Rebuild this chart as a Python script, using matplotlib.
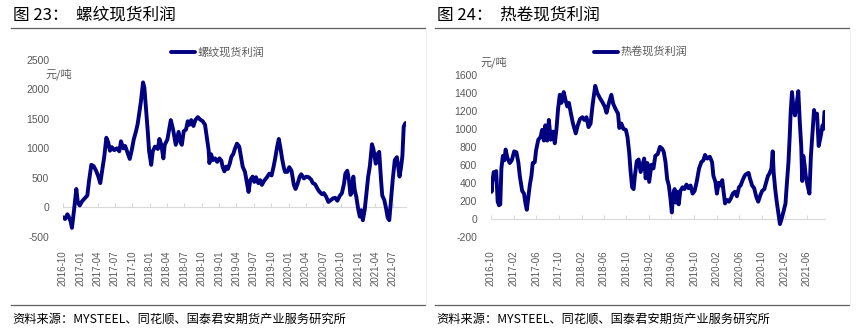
import pandas as pd
import matplotlib
matplotlib.use('Agg')
import matplotlib.pyplot as plt
import matplotlib.dates as mdates
from matplotlib.lines import Line2D

# 图23 螺纹现货利润 (元/吨)
rebar_dates = [
    '2016-10-01', '2016-10-12', '2016-10-24', '2016-10-30', '2016-11-10', '2016-11-17',
    '2016-11-28', '2016-12-10', '2016-12-18', '2016-12-28', '2017-01-09', '2017-01-23',
    '2017-02-06', '2017-02-15', '2017-02-27', '2017-03-11', '2017-03-24', '2017-04-05',
    '2017-04-15', '2017-04-24', '2017-05-06', '2017-05-17', '2017-05-27', '2017-06-05',
    '2017-06-15', '2017-06-27', '2017-07-11', '2017-07-24', '2017-08-02', '2017-08-14',
    '2017-08-24', '2017-09-06', '2017-09-17', '2017-09-27', '2017-10-08', '2017-10-20',
    '2017-10-29', '2017-11-07', '2017-11-15', '2017-11-26', '2017-12-03', '2017-12-12',
    '2017-12-21', '2017-12-28', '2018-01-08', '2018-01-16', '2018-01-28', '2018-02-12',
    '2018-02-20', '2018-03-02', '2018-03-13', '2018-03-20', '2018-04-03', '2018-04-21',
    '2018-05-03', '2018-05-17', '2018-06-01', '2018-06-11', '2018-06-18', '2018-06-28',
    '2018-07-10', '2018-07-19', '2018-07-28', '2018-08-06', '2018-08-18', '2018-08-28',
    '2018-09-10', '2018-09-22', '2018-10-06', '2018-10-18', '2018-10-27', '2018-11-06',
    '2018-11-10', '2018-11-19', '2018-11-28', '2018-12-10', '2018-12-21', '2019-01-02',
    '2019-01-12', '2019-01-19', '2019-01-28', '2019-02-06', '2019-02-15', '2019-02-25',
    '2019-03-06', '2019-03-15', '2019-03-25', '2019-04-04', '2019-04-16', '2019-04-25',
    '2019-05-04', '2019-05-16', '2019-05-26', '2019-06-04', '2019-06-13', '2019-06-25',
    '2019-07-04', '2019-07-13', '2019-07-25', '2019-08-04', '2019-08-13', '2019-08-25',
    '2019-09-09', '2019-09-21', '2019-10-03', '2019-10-13', '2019-10-22', '2019-11-01',
    '2019-11-10', '2019-11-19', '2019-11-27', '2019-12-06', '2019-12-13', '2019-12-25',
    '2020-01-04', '2020-01-16', '2020-01-28', '2020-02-06', '2020-02-16', '2020-02-28',
    '2020-03-07', '2020-03-21', '2020-04-03', '2020-04-15', '2020-04-28', '2020-05-07',
    '2020-05-19', '2020-06-03', '2020-06-12', '2020-06-25', '2020-07-04', '2020-07-16',
    '2020-07-28', '2020-08-09', '2020-08-21', '2020-09-02', '2020-09-13', '2020-09-25',
    '2020-10-07', '2020-10-18', '2020-10-25', '2020-11-04', '2020-11-13', '2020-11-21',
    '2020-11-29', '2020-12-06', '2020-12-13', '2020-12-22', '2020-12-31', '2021-01-09',
    '2021-01-17', '2021-01-25', '2021-02-04', '2021-02-13', '2021-02-22', '2021-03-03',
    '2021-03-14', '2021-03-22', '2021-04-03', '2021-04-12', '2021-04-21', '2021-05-01',
    '2021-05-07', '2021-05-18', '2021-05-26', '2021-06-05', '2021-06-13', '2021-06-22',
    '2021-07-01', '2021-07-12', '2021-07-23', '2021-07-30', '2021-08-06', '2021-08-14',
    '2021-08-21', '2021-08-28', '2021-09-06',
]
rebar_values = [
    -170, -200, -120, -150, -240, -350,
    -50, 310, 80, 30, 100, 150,
    200, 450, 720, 700, 620, 520,
    410, 600, 860, 1180, 1100, 960,
    1020, 970, 1000, 950, 1120, 1000,
    1040, 920, 820, 960, 1150, 1290,
    1420, 1620, 1800, 2120, 2030, 1660,
    1280, 950, 720, 950, 1030, 990,
    1160, 1060, 830, 1060, 1150, 1480,
    1320, 1060, 1280, 1100, 1060, 1290,
    1320, 1460, 1400, 1480, 1380, 1480,
    1530, 1490, 1460, 1400, 1200, 970,
    750, 900, 800, 830, 770, 830,
    790, 680, 610, 690, 650, 740,
    860, 900, 1000, 1080, 1030, 860,
    690, 600, 420, 260, 460, 520,
    430, 510, 410, 460, 380, 450,
    510, 570, 540, 680, 830, 1020,
    1160, 1000, 830, 680, 600, 600,
    680, 620, 380, 310, 390, 520,
    560, 490, 520, 510, 470, 410,
    390, 300, 260, 220, 240, 180,
    90, 120, 150, 160, 110, 190,
    240, 400, 570, 620, 460, 210,
    260, 520, 300, 170, -20, -160,
    -50, -220, -40, 240, 520, 700,
    1070, 980, 740, 900, 940, 450,
    200, 120, 0, -180, -220, 120,
    460, 800, 850, 690, 520, 680,
    870, 1370, 1430,
]
rebar_ticks = ['2016-10', '2017-01', '2017-04', '2017-07', '2017-10', '2018-01', '2018-04',
               '2018-07', '2018-10', '2019-01', '2019-04', '2019-07', '2019-10', '2020-01',
               '2020-04', '2020-07', '2020-10', '2021-01', '2021-04', '2021-07']
rebar_yticks = [-500, 0, 500, 1000, 1500, 2000, 2500]

# 图24 热卷现货利润 (元/吨)
hrc_dates = [
    '2016-10-01', '2016-10-04', '2016-10-09', '2016-10-16', '2016-10-21', '2016-10-29',
    '2016-11-06', '2016-11-13', '2016-11-20', '2016-11-26', '2016-12-04', '2016-12-12',
    '2016-12-19', '2016-12-28', '2017-01-10', '2017-01-21', '2017-02-03', '2017-02-15',
    '2017-02-26', '2017-03-05', '2017-03-18', '2017-03-28', '2017-04-05', '2017-04-12',
    '2017-04-19', '2017-04-28', '2017-05-07', '2017-05-14', '2017-05-25', '2017-06-01',
    '2017-06-13', '2017-06-25', '2017-07-04', '2017-07-13', '2017-07-21', '2017-07-31',
    '2017-08-09', '2017-08-19', '2017-08-31', '2017-09-10', '2017-09-19', '2017-09-28',
    '2017-10-07', '2017-10-16', '2017-10-28', '2017-11-07', '2017-11-16', '2017-11-25',
    '2017-12-06', '2017-12-17', '2018-01-01', '2018-01-12', '2018-01-24', '2018-02-06',
    '2018-02-16', '2018-02-28', '2018-03-11', '2018-03-22', '2018-04-02', '2018-04-16',
    '2018-04-27', '2018-05-12', '2018-05-24', '2018-06-06', '2018-06-16', '2018-06-29',
    '2018-07-12', '2018-07-22', '2018-08-04', '2018-08-17', '2018-08-24', '2018-09-04',
    '2018-09-15', '2018-09-28', '2018-10-07', '2018-10-16', '2018-10-24', '2018-11-01',
    '2018-11-09', '2018-11-16', '2018-11-26', '2018-12-06', '2018-12-17', '2018-12-26',
    '2019-01-05', '2019-01-13', '2019-01-22', '2019-02-01', '2019-02-13', '2019-02-24',
    '2019-03-06', '2019-03-19', '2019-03-31', '2019-04-12', '2019-04-21', '2019-04-30',
    '2019-05-09', '2019-05-18', '2019-05-27', '2019-06-03', '2019-06-10', '2019-06-18',
    '2019-06-25', '2019-07-01', '2019-07-10', '2019-07-19', '2019-07-31', '2019-08-10',
    '2019-08-21', '2019-09-01', '2019-09-12', '2019-09-23', '2019-10-04', '2019-10-15',
    '2019-10-28', '2019-11-09', '2019-11-20', '2019-11-29', '2019-12-11', '2019-12-25',
    '2020-01-06', '2020-01-13', '2020-01-24', '2020-02-01', '2020-02-11', '2020-02-22',
    '2020-03-01', '2020-03-07', '2020-03-16', '2020-03-25', '2020-04-06', '2020-04-17',
    '2020-04-27', '2020-05-08', '2020-05-19', '2020-05-30', '2020-06-08', '2020-06-19',
    '2020-06-30', '2020-07-10', '2020-07-21', '2020-07-28', '2020-08-09', '2020-08-20',
    '2020-09-01', '2020-09-11', '2020-09-22', '2020-10-02', '2020-10-14', '2020-10-23',
    '2020-11-03', '2020-11-10', '2020-11-21', '2020-11-28', '2020-12-03', '2020-12-11',
    '2020-12-19', '2020-12-28', '2021-01-06', '2021-01-15', '2021-01-24', '2021-02-05',
    '2021-02-12', '2021-02-21', '2021-02-28', '2021-03-05', '2021-03-12', '2021-03-19',
    '2021-03-28', '2021-04-06', '2021-04-15', '2021-04-23', '2021-05-01', '2021-05-06',
    '2021-05-12', '2021-05-19', '2021-05-25', '2021-06-04', '2021-06-14', '2021-06-22',
    '2021-07-01', '2021-07-09', '2021-07-16', '2021-07-25', '2021-08-03', '2021-08-13',
    '2021-08-24', '2021-08-29', '2021-09-03',
]
hrc_values = [
    400, 300, 430, 520, 440, 530,
    190, 150, 160, 560, 700, 650,
    770, 680, 620, 650, 750, 740,
    620, 480, 310, 280, 170, 100,
    220, 370, 480, 620, 630, 760,
    880, 910, 990, 870, 1040, 870,
    1100, 880, 970, 840, 1000, 1230,
    1380, 1290, 1410, 1320, 1250, 1290,
    1170, 1060, 950, 1040, 1110, 1130,
    1100, 1130, 1020, 1060, 1270, 1480,
    1400, 1340, 1300, 1250, 1180, 1290,
    1380, 1280, 1220, 1170, 1010, 1060,
    1000, 990, 910, 740, 520, 350,
    330, 480, 640, 660, 520, 590,
    670, 450, 620, 410, 600, 560,
    700, 720, 800, 780, 740, 630,
    440, 370, 220, 70, 260, 330,
    180, 300, 160, 310, 350, 330,
    380, 340, 370, 280, 310, 410,
    560, 630, 650, 710, 670, 690,
    630, 480, 410, 280, 400, 370,
    430, 320, 170, 210, 190, 230,
    280, 300, 250, 350, 370, 430,
    480, 500, 510, 450, 370, 340,
    240, 190, 260, 310, 330, 400,
    480, 500, 560, 750, 520, 340,
    200, 70, -60, 0, 70, 170,
    380, 630, 930, 1190, 1410, 1250,
    1150, 1270, 1420, 1080, 800, 420,
    700, 600, 480, 370, 280, 700,
    970, 1210, 1120, 1170, 810, 910,
    1040, 1000, 1190,
]
hrc_ticks = ['2016-10', '2017-02', '2017-06', '2017-10', '2018-02', '2018-06', '2018-10',
             '2019-02', '2019-06', '2019-10', '2020-02', '2020-06', '2020-10', '2021-02',
             '2021-06']
hrc_yticks = [-200, 0, 200, 400, 600, 800, 1000, 1200, 1400, 1600]

W, H = 858, 329
CJK = ['Noto Sans CJK SC', 'DejaVu Sans']
LINE_COLOR = '#000080'
GREY_TEXT = '#595959'

plt.rcParams['font.family'] = ['Liberation Sans', 'Noto Sans CJK SC', 'DejaVu Sans']
plt.rcParams['axes.unicode_minus'] = False


def fx(px):
    return px / W


def fy(py):
    return 1 - py / H


def draw_panel(fig, box, dates, values, ticks, yticks, label, title, x0, unit_xy, legend_x):
    '''한 개 패널(제목, 선 그래프, 출처)을 그린다'''
    left, top, right, bottom = box
    ax = fig.add_axes([fx(left), fy(bottom), fx(right - left), (bottom - top) / H])
    d = pd.to_datetime(dates)
    line, = ax.plot(d, values, color=LINE_COLOR, linewidth=2.8,
                    solid_joinstyle='round', solid_capstyle='round', label=label, zorder=3)

    ax.set_xlim(d[0], d[-1] + pd.Timedelta(days=3))
    ax.set_ylim(yticks[0], yticks[-1])
    ax.set_yticks(yticks)
    ax.tick_params(axis='y', length=0, pad=10, labelsize=7.5, labelcolor=GREY_TEXT)

    # 0 위치의 가로축 (눈금은 안쪽)
    tick_pos = pd.to_datetime(ticks)
    for s in ['top', 'right', 'left']:
        ax.spines[s].set_visible(False)
    ax.spines['bottom'].set_position(('data', 0))
    ax.spines['bottom'].set_color('#d9d9d9')
    ax.spines['bottom'].set_zorder(1)
    ax.set_xticks(tick_pos)
    ax.tick_params(axis='x', direction='in', length=3, color='#d9d9d9', labelbottom=False)

    # 눈금 라벨은 맨 아래에
    sec = ax.secondary_xaxis('bottom')
    sec.set_xticks(tick_pos)
    sec.xaxis.set_major_formatter(mdates.DateFormatter('%Y-%m'))
    sec.spines['bottom'].set_visible(False)
    sec.tick_params(axis='x', length=0, pad=10, labelsize=7, labelcolor=GREY_TEXT, labelrotation=90)

    ax.legend(handles=[line], loc='center left', bbox_to_anchor=(fx(legend_x), fy(52)),
              bbox_transform=fig.transFigure, frameon=False, borderpad=0, borderaxespad=0,
              handlelength=2.2, handletextpad=0.15, prop={'family': CJK, 'size': 8},
              labelcolor=GREY_TEXT)

    fig.text(fx(unit_xy[0]), fy(unit_xy[1]), '元/吨', family=CJK, fontsize=8,
             color=GREY_TEXT, ha='left', va='center')

    # 제목, 구분선, 출처
    fig.text(fx(x0 + 2), fy(15), title, family=CJK, fontsize=12, color='black',
             ha='left', va='center')
    fig.add_artist(Line2D([fx(x0), fx(x0 + 414)], [fy(28), fy(28)], color='#606060', linewidth=0.9))
    fig.add_artist(Line2D([fx(x0), fx(x0 + 414)], [fy(305), fy(305)], color='#606060', linewidth=0.9))
    fig.add_artist(Line2D([fx(x0 + 415), fx(x0 + 415)], [fy(30), fy(305)], color='#ececec', linewidth=0.8))
    fig.text(fx(x0 + 1), fy(319), '资料来源：MYSTEEL、同花顺、国泰君安期货产业服务研究所',
             family=CJK, fontsize=8.8, color='black', ha='left', va='center')
    return ax


def main():
    fig = plt.figure(figsize=(W / 100, H / 100), dpi=100)
    fig.patch.set_facecolor('white')

    draw_panel(fig, (63, 60, 406, 236.7), rebar_dates, rebar_values, rebar_ticks, rebar_yticks,
               '螺纹现货利润', '图 23：  螺纹现货利润', 11, (45, 74), 171)
    draw_panel(fig, (491, 75, 825, 236.7), hrc_dates, hrc_values, hrc_ticks, hrc_yticks,
               '热卷现货利润', '图 24：  热卷现货利润', 435, (481, 62), 594)

    fig.savefig('out.png', dpi=100, facecolor='white')


if __name__ == '__main__':
    main()
